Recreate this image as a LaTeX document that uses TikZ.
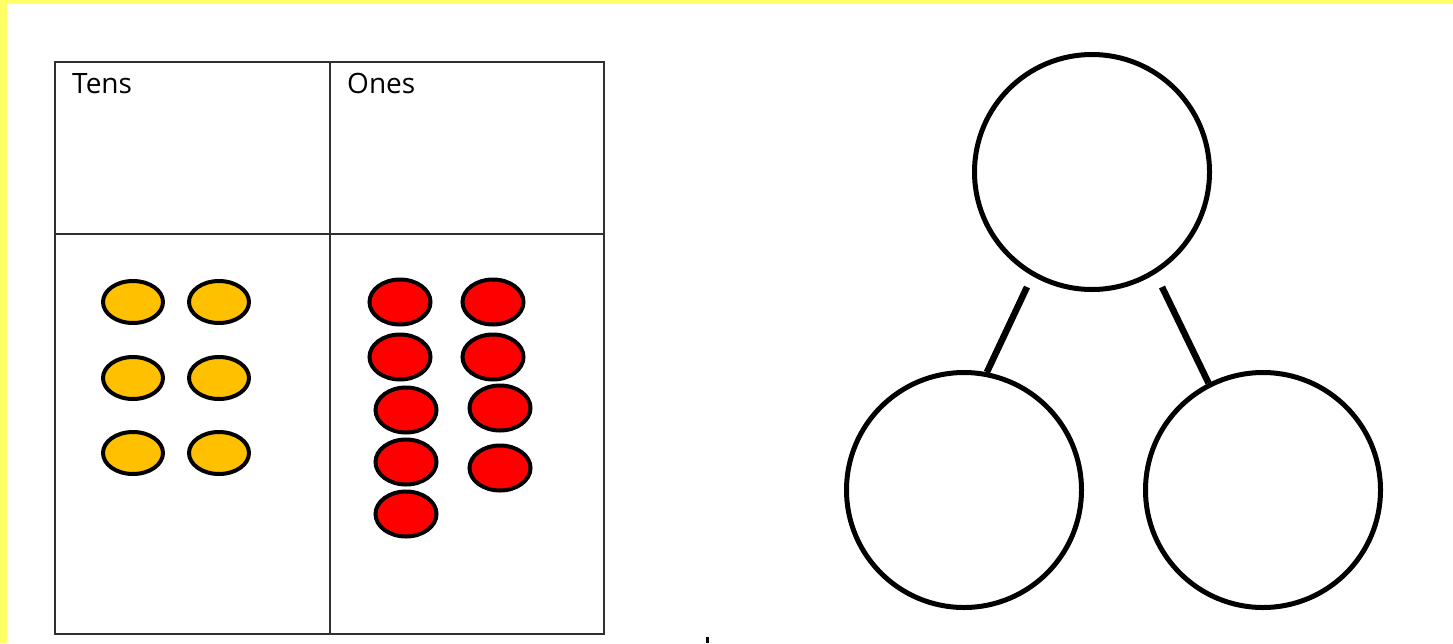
\documentclass[tikz,border=0pt]{standalone}
\usepackage{fontspec}
\setmainfont{Open Sans}
\usetikzlibrary{shapes.geometric}
\definecolor{frameyellow}{HTML}{FFFF66}
\definecolor{tenorange}{HTML}{FFC000}
\definecolor{onered}{HTML}{FF0000}
\definecolor{tablegray}{HTML}{303030}
\tikzset{
  tencounter/.style={ellipse, draw=black, line width=4pt, fill=tenorange, minimum width=60pt, minimum height=42pt, inner sep=0pt},
  onecounter/.style={ellipse, draw=black, line width=4pt, fill=onered, minimum width=61pt, minimum height=45pt, inner sep=0pt},
  bond/.style={circle, draw=black, line width=5pt, minimum size=235pt, inner sep=0pt},
  bondline/.style={line width=6.5pt},
  tableline/.style={draw=tablegray, line width=2pt},
  header/.style={anchor=base west, inner sep=0pt, font=\fontsize{28}{34}\selectfont}
}
\begin{document}
\begin{tikzpicture}[x=1pt,y=-1pt]
\useasboundingbox (0,0) rectangle (1453,643);
\fill[white] (0,0) rectangle (1453,643);
% yellow frame edges
\fill[frameyellow] (0,0) rectangle (1453,3.5);
\fill[frameyellow] (0,0) rectangle (7,643);
% place-value table
\draw[tableline] (55,62) rectangle (604,634);
\draw[tableline] (330,62) -- (330,634);
\draw[tableline] (55,234) -- (604,234);
\node[header] (tens) at (72,93) {Tens};
\node[header] (ones) at (347,93) {Ones};
% tens counters
\node[tencounter] (t1) at (133,302) {};
\node[tencounter] (t2) at (219,302) {};
\node[tencounter] (t3) at (133,378) {};
\node[tencounter] (t4) at (219,378) {};
\node[tencounter] (t5) at (133,453) {};
\node[tencounter] (t6) at (219,453) {};
% ones counters
\node[onecounter] (o1) at (400,302) {};
\node[onecounter] (o2) at (493,302) {};
\node[onecounter] (o3) at (400,357) {};
\node[onecounter] (o4) at (493,357) {};
\node[onecounter] (o5) at (406,410) {};
\node[onecounter] (o6) at (500,408) {};
\node[onecounter] (o7) at (406,462) {};
\node[onecounter] (o8) at (500,468) {};
\node[onecounter] (o9) at (406,514) {};
% number bond
\node[bond] (whole) at (1092,172) {};
\node[bond] (partl) at (964,490) {};
\node[bond] (partr) at (1263,490) {};
\coordinate (lstart) at (1027,287);
\coordinate (rstart) at (1162,287);
\draw[bondline] (lstart) -- (partl.79);
\draw[bondline] (rstart) -- (partr.117);
% stray mark
\fill[black] (706,637) rectangle (709,643);
\end{tikzpicture}
\end{document}
